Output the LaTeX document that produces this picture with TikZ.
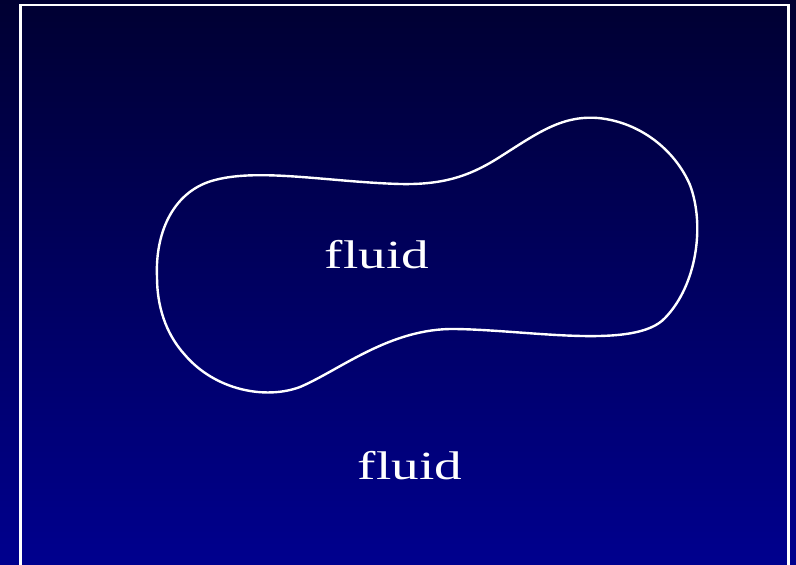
\documentclass[tikz,border=0pt]{standalone}
\usepackage{fontspec}
\setmainfont{Liberation Serif}
\usepackage{tikz}
\definecolor{deeptop}{RGB}{0,0,50}
\definecolor{deepbottom}{RGB}{0,0,142}
\tikzset{fluidtext/.style={text=white,inner sep=0pt,font=\fontsize{40}{48}\selectfont}}
\newcommand{\wide}[1]{\scalebox{1.38}[1]{#1}}

\begin{document}
\begin{tikzpicture}[x=1pt,y=-1pt]
        \useasboundingbox (0,0) rectangle (796,565);
        \shade[top color=deeptop,bottom color=deepbottom] (0,0) rectangle (796,565);
        \clip (0,0) rectangle (796,565);
        \draw[white,line width=2.5pt] (20.5,580) -- (20.5,5) -- (788.5,5) -- (788.5,580);
        % closed region
        \draw[white,line width=2.4pt] (157,277) .. controls (155,230) and (175,190) .. (215,180)
          .. controls (260,168) and (330,182) .. (400,184)
          .. controls (445,185) and (470,175) .. (495,160)
          .. controls (535,135) and (560,115) .. (598,118)
          .. controls (640,122) and (675,150) .. (690,185)
          .. controls (705,225) and (697,285) .. (665,318)
          .. controls (635,350) and (530,330) .. (455,329)
          .. controls (390,328) and (340,370) .. (300,387)
          .. controls (265,400) and (215,390) .. (185,355)
          .. controls (165,333) and (157,305) .. (157,277) -- cycle;
        \node[fluidtext,anchor=base] (inner) at (377,268) {\wide{fluid}};
        \node[fluidtext,anchor=base] (outer) at (410,479) {\wide{fluid}};
      \end{tikzpicture}
\end{document}
